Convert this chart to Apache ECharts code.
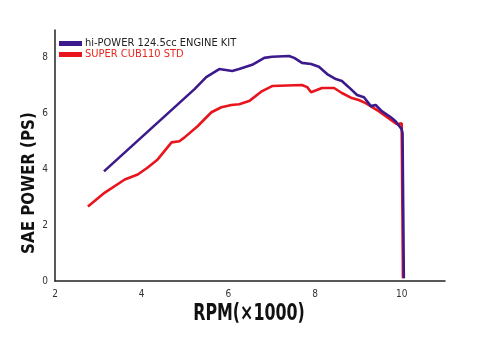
<!DOCTYPE html>
<html><head><meta charset="utf-8">
<script src="https://cdn.jsdelivr.net/npm/echarts@6/dist/echarts.min.js"></script>
<style>html,body{margin:0;padding:0;background:#fff}#c{width:500px;height:346px}</style>
</head><body><div id="c"></div>
<script>
const seriesNames = ['hi-POWER 124.5cc ENGINE KIT', 'SUPER CUB110 STD'];
const xTitle = 'RPM(×1000)';
const yTitle = 'SAE POWER (PS)';
const xTicks = [2, 4, 6, 8, 10];
const yTicks = [0, 2, 4, 6, 8];
const kitRpm =   [3.13, 5.22, 5.49, 5.79, 6.09, 6.25, 6.55, 6.83, 7.01, 7.40, 7.52, 7.70, 7.91, 8.09, 8.28, 8.48, 8.62, 8.78, 8.97, 9.13, 9.29, 9.40, 9.54, 9.75, 9.86, 10.00, 10.02, 10.05];
const kitPower = [3.93, 6.88, 7.31, 7.60, 7.53, 7.60, 7.75, 8.00, 8.04, 8.07, 8.00, 7.82, 7.78, 7.68, 7.42, 7.24, 7.17, 6.95, 6.67, 6.59, 6.27, 6.31, 6.09, 5.87, 5.73, 5.44, 5.30, 0.10];
const stdRpm =   [2.76, 3.15, 3.61, 3.91, 4.14, 4.37, 4.69, 4.87, 4.99, 5.29, 5.61, 5.84, 6.07, 6.25, 6.48, 6.78, 7.01, 7.70, 7.82, 7.91, 8.16, 8.44, 8.62, 8.85, 9.01, 9.17, 9.47, 9.89, 10.00, 10.03];
const stdPower = [2.67, 3.17, 3.64, 3.82, 4.07, 4.36, 4.97, 5.01, 5.15, 5.55, 6.05, 6.23, 6.31, 6.34, 6.45, 6.81, 6.99, 7.03, 6.95, 6.77, 6.92, 6.92, 6.74, 6.56, 6.49, 6.38, 6.09, 5.62, 5.66, 0.10];

const fam = "'DejaVu Sans', sans-serif";
const pairs = (xs, ys) => xs.map((x, i) => [x, ys[i]]);
const chart = echarts.init(document.getElementById('c'), null, {renderer: 'canvas'});
chart.setOption({
  animation: false,
  backgroundColor: '#fff',
  grid: {left: 55, right: 55, top: 30, bottom: 65},
  legend: {
    orient: 'vertical', left: 59, top: 38, padding: 0, icon: 'rect', itemWidth: 23, itemHeight: 5, itemGap: 0,
    textStyle: {fontFamily: fam, fontStyle: 'condensed', fontSize: 11, lineHeight: 9.5, padding: [0, 0, 0, -2]},
    data: [
      {name: seriesNames[0], textStyle: {color: '#222'}},
      {name: seriesNames[1], textStyle: {color: '#e8281e'}}
    ]
  },
  graphic: [
    {type: 'text', x: 249, y: 314, scaleX: 0.69, silent: true,
      style: {text: xTitle, fontFamily: fam, fontWeight: 'bold', fontSize: 23, fill: '#111', align: 'center', verticalAlign: 'middle'}},
    {type: 'text', x: 29, y: 183, rotation: Math.PI / 2, scaleX: 0.84, silent: true,
      style: {text: yTitle, fontFamily: fam, fontWeight: 'bold', fontSize: 18, fill: '#111', align: 'center', verticalAlign: 'middle'}}
  ],
  xAxis: {
    type: 'value', min: 2, max: 11, interval: 2,
    axisLine: {show: true, lineStyle: {color: '#222', width: 1.5}},
    axisTick: {show: false}, splitLine: {show: false},
    axisLabel: {showMaxLabel: false, margin: 8, fontFamily: fam, fontStyle: 'condensed', fontSize: 10, color: '#333',
      formatter: v => xTicks.includes(v) ? String(v) : ''}
  },
  yAxis: {
    type: 'value', min: 0, max: 9, interval: 2,
    axisLine: {show: true, lineStyle: {color: '#222', width: 1.5}},
    axisTick: {show: false}, splitLine: {show: false},
    axisLabel: {showMaxLabel: false, margin: 7, fontFamily: fam, fontStyle: 'condensed', fontSize: 10, color: '#333',
      formatter: v => yTicks.includes(v) ? String(v) : ''}
  },
  series: [
    {name: seriesNames[1], type: 'line', data: pairs(stdRpm, stdPower), showSymbol: false, z: 2,
      lineStyle: {color: '#e8141e', width: 2.6}, itemStyle: {color: '#e8141e'}},
    {name: seriesNames[0], type: 'line', data: pairs(kitRpm, kitPower), showSymbol: false, z: 3,
      lineStyle: {color: '#3d1a8c', width: 2.6}, itemStyle: {color: '#3d1a8c'}}
  ]
});
</script></body></html>
